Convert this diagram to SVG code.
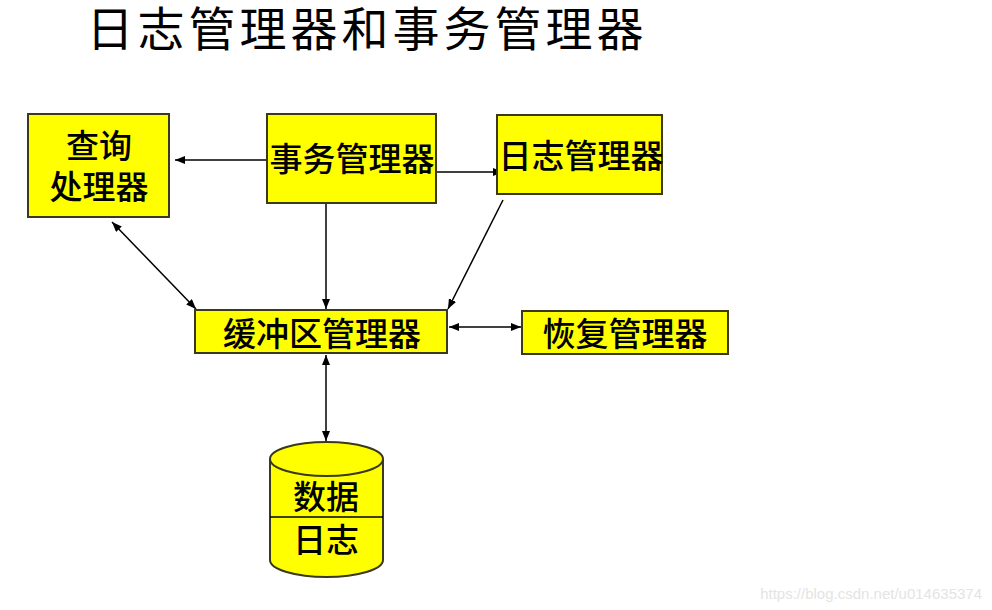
<svg xmlns="http://www.w3.org/2000/svg" width="992" height="610" viewBox="0 0 992 610">
<style>
.box{fill:#ffff00;stroke:#3a3a1a;stroke-width:2}
.t{font-family:"Liberation Sans","Noto Sans CJK SC",sans-serif;font-size:33px;fill:#000;text-anchor:middle;font-weight:500}
.c{stroke:#000;stroke-width:1.5;fill:none}
</style>
<defs>
<marker id="ah" viewBox="0 0 10 8" refX="10" refY="4" markerWidth="10" markerHeight="8" markerUnits="userSpaceOnUse" orient="auto-start-reverse">
<path d="M0,0 L10,4 L0,8 Z" fill="#000"/>
</marker>
</defs>
<rect width="992" height="610" fill="#fff"/>
<text x="367" y="46" font-family="Liberation Sans,Noto Sans CJK SC,sans-serif" font-size="47" letter-spacing="4" text-anchor="middle" fill="#000">日志管理器和事务管理器</text>
<g id="connectors">
<line class="c" x1="267" y1="160" x2="175" y2="160" marker-end="url(#ah)"/>
<line class="c" x1="433" y1="172" x2="503" y2="172" marker-end="url(#ah)"/>
<line class="c" x1="326" y1="203" x2="326" y2="309" marker-end="url(#ah)"/>
<line class="c" x1="503" y1="200" x2="448" y2="309" marker-end="url(#ah)"/>
<line class="c" x1="112" y1="222" x2="196" y2="309" marker-start="url(#ah)" marker-end="url(#ah)"/>
<line class="c" x1="449" y1="327" x2="521" y2="327" marker-start="url(#ah)" marker-end="url(#ah)"/>
<line class="c" x1="326" y1="355" x2="326" y2="441" marker-start="url(#ah)" marker-end="url(#ah)"/>
</g>
<g id="query">
<rect class="box" x="28" y="114" width="141" height="103"/>
<text class="t" x="99" y="158">查询</text>
<text class="t" x="99" y="199">处理器</text>
</g>
<g id="txn">
<rect class="box" x="267" y="114" width="169" height="89"/>
<text class="t" x="352" y="171" font-size="34">事务管理器</text>
</g>
<g id="log">
<rect class="box" x="497" y="115" width="165" height="79"/>
<text class="t" x="581" y="168">日志管理器</text>
</g>
<g id="buffer">
<rect class="box" x="195" y="310" width="252" height="43"/>
<text class="t" x="322" y="346">缓冲区管理器</text>
</g>
<g id="recovery">
<rect class="box" x="522" y="311" width="206" height="43"/>
<text class="t" x="625" y="346">恢复管理器</text>
</g>
<g id="db">
<path class="box" d="M270,459 L270,560 A56.5,17 0 0 0 383,560 L383,459"/>
<ellipse class="box" cx="326.5" cy="459" rx="56.5" ry="17"/>
<line class="c" x1="270" y1="517" x2="383" y2="517" stroke-width="2"/>
<text class="t" x="326" y="509">数据</text>
<text class="t" x="326" y="552">日志</text>
</g>
<text x="982" y="599" font-family="Liberation Sans,sans-serif" font-size="15" fill="#e4e4e4" text-anchor="end">https://blog.csdn.net/u014635374</text>
</svg>
